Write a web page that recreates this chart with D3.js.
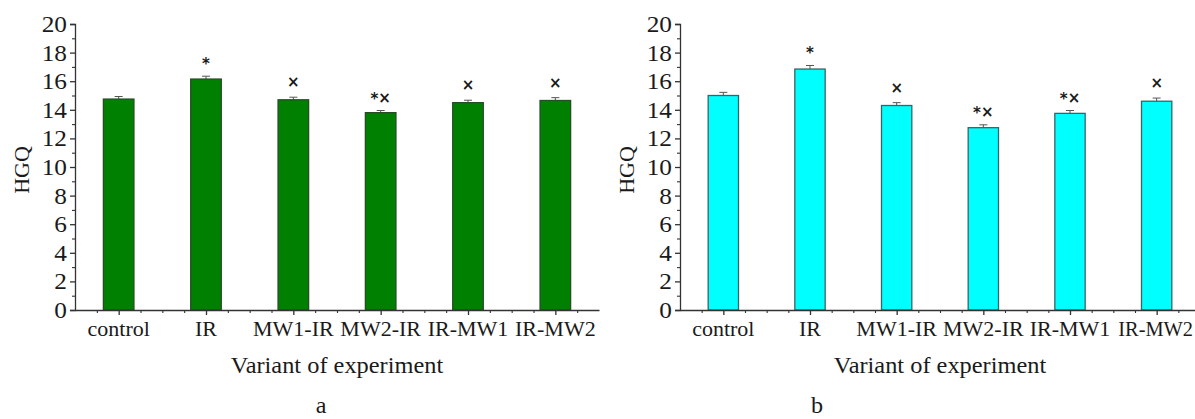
<!DOCTYPE html>
<html>
<head>
<meta charset="utf-8">
<script src="https://cdn.jsdelivr.net/npm/d3@7/dist/d3.min.js"></script>
<style>
  html, body { margin: 0; padding: 0; background: #fff; }
  svg { display: block; }
  text { font-family: "Liberation Serif", "Times New Roman", serif; fill: #1a1a1a; }
</style>
</head>
<body>
<svg id="chart" width="1195" height="419"></svg>
<script>
// ---- data ----
const categories = ["control", "IR", "MW1-IR", "MW2-IR", "IR-MW1", "IR-MW2"];
const valuesA = [14.75, 16.15, 14.7, 13.8, 14.5, 14.65];
const errorsA = [0.18, 0.2, 0.18, 0.15, 0.17, 0.2];
const marksA  = ["", "*", "×", "*×", "×", "×"];
const valuesB = [15.0, 16.85, 14.3, 12.75, 13.75, 14.6];
const errorsB = [0.22, 0.25, 0.2, 0.2, 0.2, 0.22];
const marksB  = ["", "*", "×", "*×", "*×", "×"];
const yTicks = [0, 2, 4, 6, 8, 10, 12, 14, 16, 18, 20];
const panelLabels = ["a", "b"];
const xTitle = "Variant of experiment";
const yTitle = "HGQ";

const svg = d3.select("#chart");

function stretchedText(g, x, y, str, size, anchor, sx) {
  return g.append("text")
    .attr("transform", `translate(${x},${y}) scale(${sx},1)`)
    .attr("text-anchor", anchor)
    .style("font-size", size + "px")
    .text(str);
}

function panel(opt) {
  const g = svg.append("g");
  const x = d3.scaleLinear().domain([0.5, 6.5]).range([opt.x0, opt.x1]);
  const y = d3.scaleLinear().domain([0, 20]).range([310, 24]);
  const axisColor = "#333";
  const barW = x(1.35) - x(1);

  // error bars (drawn first; bar covers the lower half)
  const eb = g.append("g").attr("stroke", "#555").attr("stroke-width", 1);
  opt.values.forEach((v, i) => {
    const cx = x(i + 1);
    const e = opt.errors[i];
    eb.append("line").attr("x1", cx).attr("x2", cx).attr("y1", y(v - e)).attr("y2", y(v + e));
    eb.append("line").attr("x1", cx - 4).attr("x2", cx + 4).attr("y1", y(v + e)).attr("y2", y(v + e));
  });

  // bars
  g.append("g").selectAll("rect").data(opt.values).join("rect")
    .attr("x", (d, i) => x(i + 1) - barW / 2)
    .attr("width", barW)
    .attr("y", d => y(d))
    .attr("height", d => y(0) - y(d))
    .attr("fill", opt.fill)
    .attr("stroke", opt.stroke)
    .attr("stroke-width", 1.3);

  // significance marks
  opt.marks.forEach((m, i) => {
    if (!m) return;
    const cx = x(i + 1);
    const top = y(opt.values[i] + opt.errors[i]);
    const t = g.append("text")
      .attr("x", cx).attr("y", top - 9)
      .attr("text-anchor", "middle")
      .style("font-family", "'DejaVu Sans', sans-serif")
      .style("font-weight", "bold")
      .style("font-size", "15px");
    for (const ch of m) {
      t.append("tspan").text(ch)
        .style("font-size", ch === "*" ? "15px" : "15px")
        .attr("dy", ch === "*" ? "2" : "-1");
    }
  });

  // y axis
  const ya = g.append("g").attr("transform", `translate(${opt.x0},0)`)
    .call(d3.axisLeft(y).tickValues(yTicks).tickSize(5).tickFormat(""));
  ya.select(".domain").attr("stroke", axisColor).attr("stroke-width", 1.3);
  ya.selectAll(".tick line").attr("stroke", axisColor).attr("stroke-width", 1.3);
  const yMinor = g.append("g").attr("transform", `translate(${opt.x0},0)`)
    .call(d3.axisLeft(y).tickValues(d3.range(1, 20, 2)).tickSize(3).tickFormat(""));
  yMinor.select(".domain").remove();
  yMinor.selectAll(".tick line").attr("stroke", axisColor).attr("stroke-width", 1.1);
  yTicks.forEach(t => {
    stretchedText(g, opt.x0 - 8, y(t) + 8, String(t), 23, "end", 1.1);
  });

  // x axis
  const xa = g.append("g").attr("transform", `translate(0,${y(0)})`)
    .call(d3.axisBottom(x).tickValues(d3.range(1, 7)).tickSize(5).tickSizeOuter(0).tickFormat(""));
  xa.select(".domain").attr("stroke", axisColor).attr("stroke-width", 1.3);
  xa.selectAll(".tick line").attr("stroke", axisColor).attr("stroke-width", 1.3);
  const xMinor = g.append("g").attr("transform", `translate(0,${y(0)})`)
    .call(d3.axisBottom(x).tickValues(d3.range(0.75, 6.5, 0.25).filter(v => v % 1 !== 0)).tickSize(3).tickFormat(""));
  xMinor.select(".domain").remove();
  xMinor.selectAll(".tick line").attr("stroke", axisColor).attr("stroke-width", 1.1);

  categories.forEach((c, i) => {
    const last = i === categories.length - 1 && opt.fitLast;
    stretchedText(g, last ? 1193 : x(i + 1), 336, c, 20, last ? "end" : "middle", last ? 1.02 : 1.1);
  });

  // titles
  stretchedText(g, (opt.x0 + opt.x1) / 2, 373, xTitle, 23, "middle", 1.06);
  g.append("text")
    .attr("transform", `translate(${opt.yTitleX},${(y(0) + y(20)) / 2 + 3}) rotate(-90)`)
    .attr("text-anchor", "middle")
    .style("font-size", "22px")
    .text(yTitle);
  stretchedText(g, opt.labelX, 413, opt.label, 23, "middle", 1.05);
}

panel({ x0: 75, x1: 599, values: valuesA, errors: errorsA, marks: marksA,
        fill: "#008000", stroke: "#264d26", yTitleX: 29, labelX: 321, label: panelLabels[0], fitLast: false });
panel({ x0: 680, x1: 1200, values: valuesB, errors: errorsB, marks: marksB,
        fill: "#00FFFF", stroke: "#3c6363", yTitleX: 634, labelX: 817, label: panelLabels[1], fitLast: true });
</script>
</body>
</html>
